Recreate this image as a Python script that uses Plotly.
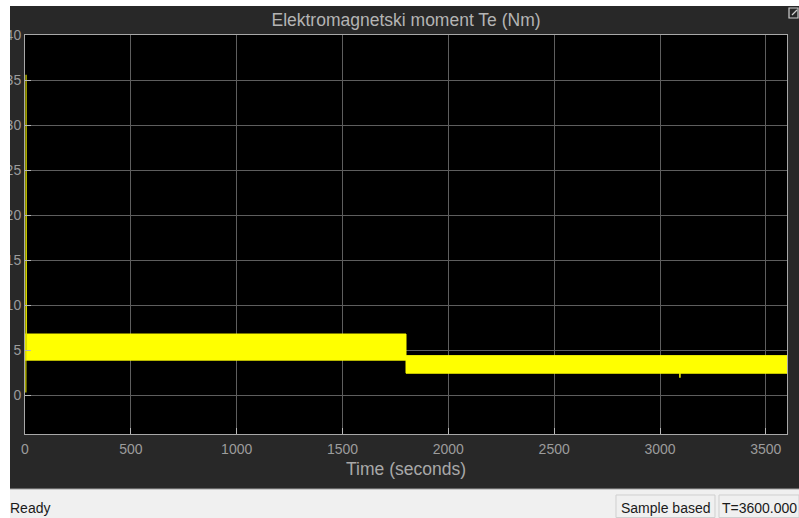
import plotly.graph_objects as go

# ---- data ----
band_time = [0, 1800, 1800, 3600]          # s
band_upper = [6.8, 6.8, 4.4, 4.4]          # Nm, upper envelope of ripple
band_lower = [3.9, 3.9, 2.45, 2.45]        # Nm, lower envelope of ripple
start_time = [4, 5, 6, 7]                  # s, start-up transient
start_te = [0.3, 35.6, 0.3, 5.0]           # Nm
glitch_time = [3094, 3094]
glitch_te = [2.45, 1.95]
x_ticks = [0, 500, 1000, 1500, 2000, 2500, 3000, 3500]
y_ticks = [0, 5, 10, 15, 20, 25, 30, 35, 40]

W, H = 799, 518
L, R, T, B = 25, 787, 35, 434  # plot area in pixels


def px(xp):
    return (xp - L) / (R - L)


def py(yp):
    return (B - yp) / (B - T)


DARK = "#282828"
YEL = "#ffff00"
FONT = "Liberation Sans, Arial, sans-serif"

fig = go.Figure()
fig.add_trace(go.Scatter(
    x=band_time + band_time[::-1],
    y=band_upper + band_lower[::-1],
    fill="toself", fillcolor=YEL, mode="lines",
    line=dict(color=YEL, width=1), hoverinfo="skip", showlegend=False))
fig.add_trace(go.Scatter(x=start_time, y=start_te, mode="lines",
                         line=dict(color="#d8d800", width=1.2), showlegend=False))
fig.add_trace(go.Scatter(x=glitch_time, y=glitch_te, mode="lines",
                         line=dict(color=YEL, width=1.5), showlegend=False))

axis_common = dict(
    showgrid=True, gridcolor="#5e5e5e", gridwidth=1,
    showline=True, linecolor="#a8a8a8", linewidth=1, mirror=True,
    ticks="inside", ticklen=6, tickcolor="#b8b8b8", tickwidth=1,
    zeroline=False, automargin=False,
    tickfont=dict(family=FONT, size=14, color="#9c9c9c"),
)

fig.update_xaxes(range=[0, 3600], tickvals=x_ticks,
                 ticktext=[str(v) for v in x_ticks],
                 title=dict(text="Time (seconds)", standoff=6,
                            font=dict(family=FONT, size=17.5, color="#a8a8a8")),
                 ticklabelstandoff=2, **axis_common)
fig.update_yaxes(range=[-4.3, 40], tickvals=y_ticks,
                 ticktext=[str(v) for v in y_ticks],
                 ticklabelstandoff=0, **axis_common)

shapes = [
    # white strips (screenshot border)
    dict(type="rect", xref="paper", yref="paper", x0=px(0), x1=px(10),
         y0=py(H), y1=py(0), fillcolor="white", line=dict(width=0), layer="above"),
    dict(type="rect", xref="paper", yref="paper", x0=px(0), x1=px(W),
         y0=py(6), y1=py(0), fillcolor="white", line=dict(width=0), layer="above"),
    # status bar
    dict(type="rect", xref="paper", yref="paper", x0=px(10), x1=px(W),
         y0=py(H), y1=py(489), fillcolor="#f0f0f0", line=dict(width=0), layer="above"),
    dict(type="line", xref="paper", yref="paper", x0=px(10), x1=px(W),
         y0=py(489), y1=py(489), line=dict(color="#a0a0a0", width=1), layer="above"),
    dict(type="rect", xref="paper", yref="paper", x0=px(616), x1=px(715),
         y0=py(517.5), y1=py(495), fillcolor="#f0f0f0",
         line=dict(color="#cfcfcf", width=1), layer="above"),
    dict(type="rect", xref="paper", yref="paper", x0=px(719), x1=px(799),
         y0=py(517.5), y1=py(495), fillcolor="#f0f0f0",
         line=dict(color="#cfcfcf", width=1), layer="above"),
    # undock icon top-right
    dict(type="rect", xref="paper", yref="paper", x0=px(789), x1=px(798),
         y0=py(18), y1=py(8), fillcolor="rgba(0,0,0,0)",
         line=dict(color="#d0d0d0", width=1.2), layer="above"),
    dict(type="line", xref="paper", yref="paper", x0=px(792), x1=px(797),
         y0=py(15), y1=py(10), line=dict(color="#d0d0d0", width=1.2), layer="above"),
]

annotations = [
    dict(text="Ready", xref="paper", yref="paper", x=px(8), y=py(508),
         xanchor="left", yanchor="middle", showarrow=False,
         font=dict(family=FONT, size=14, color="#1a1a1a")),
    dict(text="Sample based", xref="paper", yref="paper", x=px(665.5), y=py(508),
         xanchor="center", yanchor="middle", showarrow=False,
         font=dict(family=FONT, size=14, color="#1a1a1a")),
    dict(text="T=3600.000", xref="paper", yref="paper", x=px(759), y=py(508),
         xanchor="center", yanchor="middle", showarrow=False,
         font=dict(family=FONT, size=14, color="#1a1a1a")),
]

fig.update_layout(
    width=W, height=H,
    margin=dict(l=L, r=W - R, t=T, b=H - B, pad=0, autoexpand=False),
    paper_bgcolor=DARK, plot_bgcolor="black",
    title=dict(text="Elektromagnetski moment Te (Nm)", x=0.5, xref="paper",
               y=1 - 20 / H, yref="container", xanchor="center", yanchor="middle",
               font=dict(family=FONT, size=17.5, color="#b4b4b4")),
    shapes=shapes, annotations=annotations, showlegend=False,
)

fig.write_html("out.html",
               config={"displayModeBar": False},
               post_script="document.body.style.margin='0px';"
                           "document.body.style.overflow='hidden';")
